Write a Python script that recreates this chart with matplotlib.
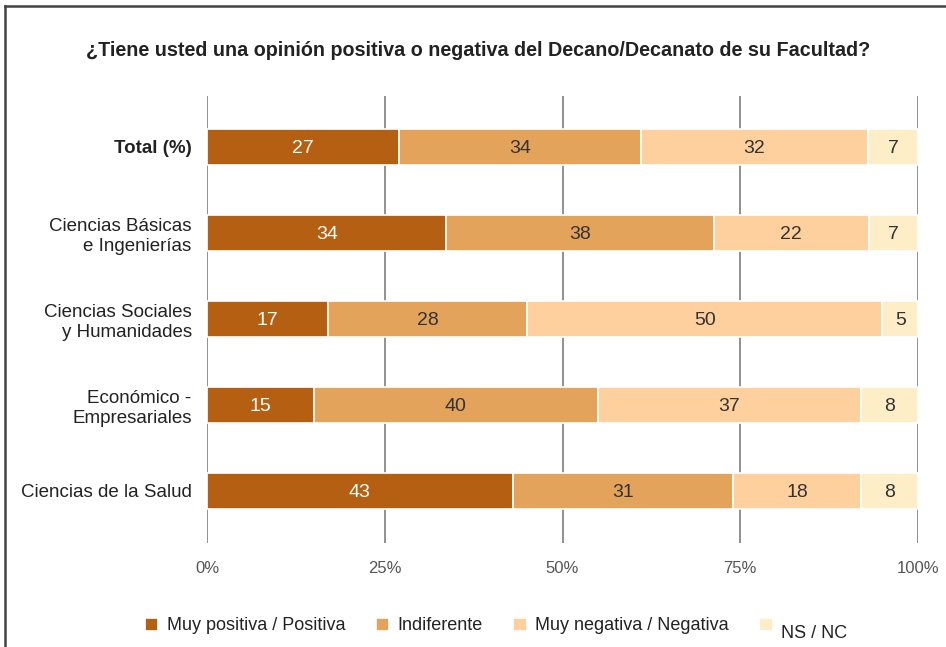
import matplotlib.pyplot as plt
from matplotlib.lines import Line2D
from matplotlib import font_manager

names = {f.name for f in font_manager.fontManager.ttflist}
fam = 'Liberation Sans Narrow' if 'Liberation Sans Narrow' in names else 'Liberation Sans'
plt.rcParams['font.family'] = [fam, 'DejaVu Sans']

categorias = ['Total (%)', 'Ciencias Básicas\ne Ingenierías', 'Ciencias Sociales\ny Humanidades',
              'Económico -\nEmpresariales', 'Ciencias de la Salud']
series = ['Muy positiva / Positiva', 'Indiferente', 'Muy negativa / Negativa', '\nNS / NC']
positiva = [27, 34, 17, 15, 43]
indiferente = [34, 38, 28, 40, 31]
negativa = [32, 22, 50, 37, 18]
nsnc = [7, 7, 5, 8, 8]
colores = ['#B55F12', '#E3A35B', '#FDD09D', '#FEEEC8']
color_texto = ['white', '#333333', '#333333', '#333333']

fig = plt.figure(figsize=(9.46, 6.47), dpi=100)
ax = fig.add_axes([207/946, 1-543/647, 711/946, 447/647])

datos = [positiva, indiferente, negativa, nsnc]
for i in range(len(categorias)):
    total = sum(d[i] for d in datos)
    izq = 0
    for j, d in enumerate(datos):
        w = d[i] / total * 100
        ax.barh(i, w, left=izq, height=0.42, color=colores[j], edgecolor='white',
                linewidth=1.2, zorder=3, label=series[j] if i == 0 else None)
        ax.text(izq + w/2, i, str(d[i]), ha='center', va='center_baseline', fontsize=14,
                color=color_texto[j], zorder=4)
        izq += w

ax.set_xlim(0, 100)
ax.set_ylim(4.605, -0.593)
ax.set_xticks([0, 25, 50, 75, 100])
ax.set_xticklabels(['0%', '25%', '50%', '75%', '100%'], color='#555555', fontsize=12)
ax.set_yticks(range(len(categorias)))
ax.set_yticklabels(categorias, fontsize=13.5, color='#222222')
ax.get_yticklabels()[0].set_fontweight('bold')
ax.tick_params(axis='x', length=0, pad=13)
ax.tick_params(axis='y', length=0, pad=11)
for s in ax.spines.values():
    s.set_visible(False)
ax.grid(axis='x', color='#888888', linewidth=1.3, zorder=0)

fig.text(478/946, 1-50/647, '¿Tiene usted una opinión positiva o negativa del Decano/Decanato de su Facultad?',
         ha='center', va='center', fontsize=14.2, fontweight='bold', color='#222222')

fig.legend(loc='center', bbox_to_anchor=(496/946, 1-624/647), ncol=4, frameon=False,
           fontsize=13, handlelength=0.75, handleheight=0.75, handletextpad=0.45,
           columnspacing=1.7, labelcolor='#222222')

fig.add_artist(Line2D([5/946, 5/946], [0, 1-6/647], color='#444444', linewidth=1.8))
fig.add_artist(Line2D([5/946, 1], [1-6/647, 1-6/647], color='#444444', linewidth=1.8))

fig.savefig('out.png', dpi=100)
